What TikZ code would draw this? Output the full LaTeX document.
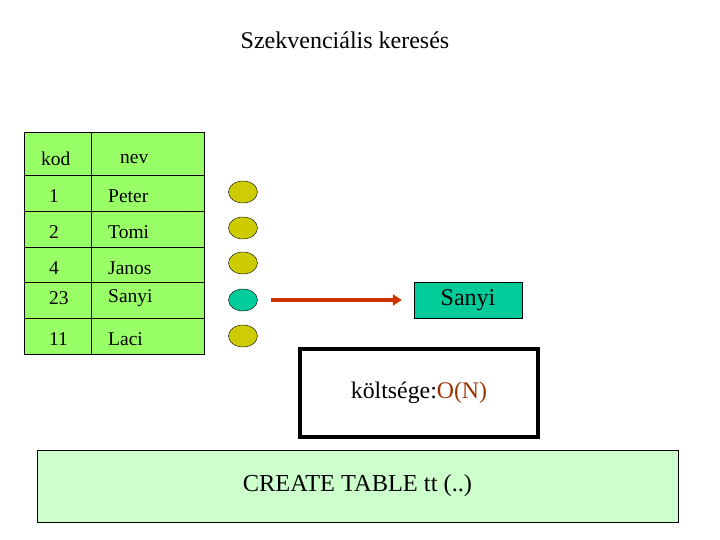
\documentclass[tikz,border=0pt]{standalone}
\usepackage{fontspec}
\setmainfont{Liberation Serif}
\usetikzlibrary{arrows.meta,positioning,shapes.geometric}
\definecolor{tablegreen}{HTML}{99FF66}
\definecolor{dotyellow}{HTML}{CCCC00}
\definecolor{hitteal}{HTML}{00CC99}
\definecolor{arrowred}{HTML}{CC3300}
\definecolor{costred}{HTML}{993300}
\definecolor{sqlgreen}{HTML}{CCFFCC}
\tikzset{
  cell/.style={font=\fontsize{19.5}{21}\selectfont, inner sep=0pt, anchor=west},
  dot/.style={ellipse, draw, thin, minimum width=29pt, minimum height=22pt, inner sep=0pt, fill=dotyellow},
  hitdot/.style={dot, fill=hitteal},
  hitbox/.style={draw, thin, fill=hitteal, minimum width=108pt, minimum height=36pt,
                 font=\fontsize{24}{26}\selectfont},
  costbox/.style={draw, line width=3.5pt, minimum width=238pt, minimum height=88pt,
                  font=\fontsize{23.8}{26}\selectfont},
  sqlbox/.style={draw, thin, fill=sqlgreen, minimum width=641pt, minimum height=72pt,
                 font=\fontsize{24.4}{27}\selectfont},
  arr/.style={-{Triangle[length=9pt, width=11pt]}, line width=4pt, draw=arrowred, fill=arrowred},
}
\begin{document}
\begin{tikzpicture}[x=1pt, y=-1pt]
    \useasboundingbox (0,0) rectangle (720,540);
    \node[font=\fontsize{24}{26}\selectfont] (title) at (345,40) {Szekvenciális keresés};
    % table
    \filldraw[fill=tablegreen, thin] (24,132) rectangle (204,354);
    \draw[thin] (91,132) -- (91,354);
    \foreach \y in {175,211,247,282,318} \draw[thin] (24,\y) -- (204,\y);
    \node[cell] (kod) at (41,159) {kod};
    \node[cell] (nev) at (120,159) {nev};
    \foreach \k/\n/\y in {1/Peter/196, 2/Tomi/232, 4/Janos/268, 23/Sanyi/298, 11/Laci/339} {
      \node[cell] (k\k) at (49,\y) {\k};
      \node[cell] (n\k) at (108,\y) {\n};
    }
    % dots
    \node[dot] (d1) at (243,192) {};
    \node[dot] (d2) at (243,228) {};
    \node[dot] (d3) at (243,263) {};
    \node[hitdot] (d4) at (243,300) {};
    \node[dot] (d5) at (243,336) {};
    \node[hitbox] (hit) at (468,300) {Sanyi};
    \draw[arr, shorten <=13pt, shorten >=12pt] (d4) -- (hit);
    \node[costbox] (cost) at (419,393) {költsége:\textcolor{costred}{O(N)}};
    \node[sqlbox] (sql) at (357.5,486) {CREATE TABLE tt (..)};
\end{tikzpicture}
\end{document}
